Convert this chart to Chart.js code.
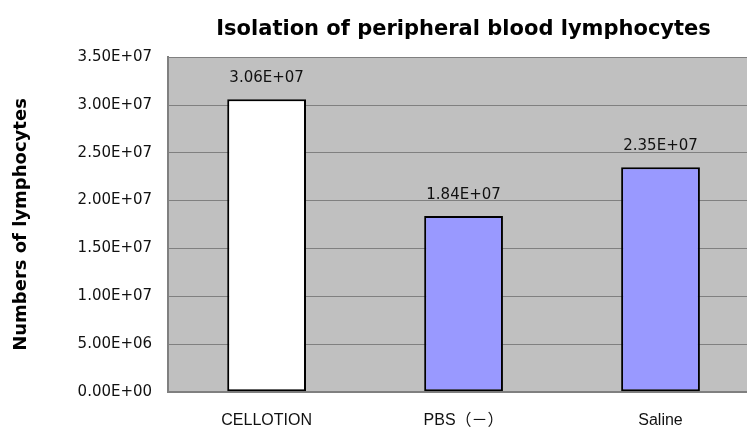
<!DOCTYPE html>
<html>
<head>
<meta charset="utf-8">
<script src="https://cdn.jsdelivr.net/npm/chart.js@4.4.0/dist/chart.umd.min.js"></script>
<style>
  html, body { margin: 0; padding: 0; background: #fff; overflow: hidden; }
  #wrap { width: 926px; height: 433px; position: relative; }
</style>
</head>
<body>
<div id="wrap"><canvas id="barChart"></canvas></div>
<script>
// valores
const categorias = ['CELLOTION', 'PBS\uFF08\uFF0D\uFF09', 'Saline'];
const linfocitos = [3.06e7, 1.84e7, 2.35e7];
const coloresBarra = ['#ffffff', '#9999ff', '#9999ff'];
const ejeY = { min: 0, max: 3.5e7, paso: 5e6 };

const fuenteNum = '"DejaVu Sans", sans-serif';
const fuenteTxt = '"Liberation Sans", Arial, "Noto Sans CJK JP", sans-serif';

// 3.06e7 -> "3.06E+07"
function formatoExp(v) {
  const [m, e] = Number(v).toExponential(2).split('e');
  const n = Math.abs(parseInt(e, 10));
  return m + 'E' + (e[0] === '-' ? '-' : '+') + String(n).padStart(2, '0');
}

// fondo gris del area de trazado
const fondoArea = {
  id: 'fondoArea',
  beforeDraw(chart) {
    const { ctx, chartArea: a } = chart;
    ctx.save();
    ctx.fillStyle = '#c0c0c0';
    ctx.fillRect(a.left, a.top, a.right - a.left, a.bottom - a.top);
    ctx.restore();
  }
};

// etiquetas de valor encima de cada barra
const etiquetasValor = {
  id: 'etiquetasValor',
  afterDatasetsDraw(chart) {
    const { ctx } = chart;
    const meta = chart.getDatasetMeta(0);
    ctx.save();
    ctx.font = '15px ' + fuenteNum;
    ctx.fillStyle = '#111';
    ctx.textAlign = 'center';
    ctx.textBaseline = 'middle';
    meta.data.forEach((bar, i) => {
      ctx.fillText(formatoExp(linfocitos[i]), bar.x, bar.y - 21);
    });
    ctx.restore();
  }
};

new Chart(document.getElementById('barChart'), {
  type: 'bar',
  data: {
    labels: categorias,
    datasets: [{
      data: linfocitos,
      backgroundColor: coloresBarra,
      borderColor: '#000',
      borderWidth: 2,
      borderSkipped: false,
      barPercentage: 0.4,
      categoryPercentage: 1
    }]
  },
  options: {
    responsive: true,
    maintainAspectRatio: false,
    animation: false,
    layout: { padding: { left: 6, right: 167, top: 12, bottom: -16 } },
    plugins: {
      legend: { display: false },
      tooltip: { enabled: false },
      title: {
        display: true,
        fullSize: false,
        text: 'Isolation of peripheral blood lymphocytes',
        color: '#000',
        font: { family: '"DejaVu Sans", sans-serif', size: 21, weight: 'bold' },
        padding: { top: 5, bottom: 15 }
      }
    },
    scales: {
      x: {
        grid: { display: false, drawTicks: false },
        border: { display: true, color: '#808080', width: 2 },
        ticks: {
          color: '#111',
          padding: 19,
          font: { family: fuenteTxt, size: 16 }
        }
      },
      y: {
        min: ejeY.min,
        max: ejeY.max,
        grid: { color: '#808080', lineWidth: 1, drawTicks: false },
        border: { display: true, color: '#808080', width: 2 },
        title: {
          display: true,
          text: 'Numbers of lymphocytes',
          color: '#000',
          font: { family: '"DejaVu Sans", sans-serif', size: 18, weight: 'bold' },
          padding: { top: 5, bottom: 29 }
        },
        ticks: {
          stepSize: ejeY.paso,
          color: '#111',
          padding: 16,
          font: { family: fuenteNum, size: 15 },
          callback: v => formatoExp(v)
        }
      }
    }
  },
  plugins: [fondoArea, etiquetasValor]
});
</script>
</body>
</html>
